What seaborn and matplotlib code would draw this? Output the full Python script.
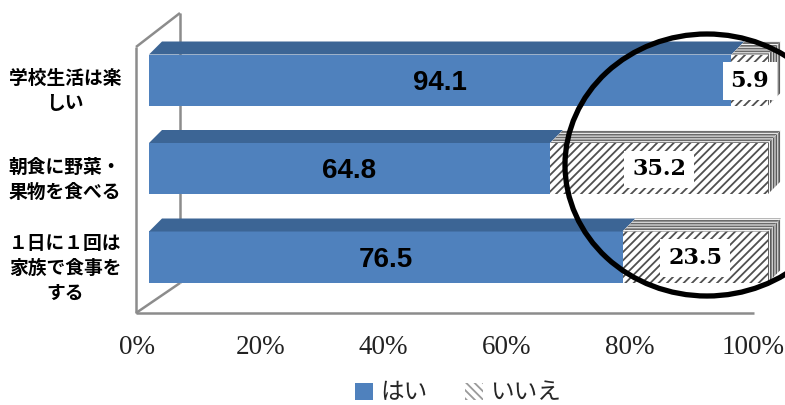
import matplotlib
matplotlib.use("Agg")
import matplotlib.pyplot as plt
from matplotlib.patches import Polygon, Ellipse, Patch
import seaborn as sns
import pandas as pd

# ---------------- data ----------------
categories = ["学校生活は楽\nしい", "朝食に野菜・\n果物を食べる", "１日に１回は\n家族で食事を\nする"]
hai = [94.1, 64.8, 76.5]
iie = [5.9, 35.2, 23.5]
series_names = ["はい", "いいえ"]
ticks = [0, 20, 40, 60, 80, 100]
tick_labels = ["0%", "20%", "40%", "60%", "80%", "100%"]

# ---------------- style ----------------
BLUE = "#4F81BD"
BLUE_TOP = "#3C6595"
HATCH_C = "#505050"
WALL_C = "#8c8c8c"
CJK = ["Noto Sans CJK JP", "DejaVu Sans"]

sns.set_theme(style="white")
plt.rcParams["font.family"] = CJK
plt.rcParams["hatch.linewidth"] = 1.3

W, H = 785, 405
fig = plt.figure(figsize=(W / 100, H / 100), dpi=100)
ax = fig.add_axes([0, 0, 1, 1])

# pixel geometry of the chart (front faces)
X0_PX, X100_PX = 149, 768
SX = (X100_PX - X0_PX) / 100.0          # px per percent
Y0_PX, DY_PX = 80, 88.5                  # first bar centre, bar spacing
BAR_H = 51 / DY_PX
DEPTH_X = 13 / SX
DEPTH_Y = 13 / DY_PX
LINE_PITCH = 25 / DY_PX


def px(xp, yp):
    return (xp - X0_PX) / SX, (yp - Y0_PX) / DY_PX


df = pd.DataFrame({"category": categories, "はい": hai, "いいえ": iie})
df["total"] = df["はい"] + df["いいえ"]

# walls / floor (behind the bars)
wall_pts = [((136, 47), (180, 13)), ((136, 47), (136, 313)), ((136, 313), (754, 313)),
            ((136, 313), (180, 283)), ((180, 13), (180, 283))]
for a, b in wall_pts:
    (x1, y1), (x2, y2) = px(*a), px(*b)
    ax.plot([x1, x2], [y1, y2], color=WALL_C, lw=1.8, zorder=0.5, solid_capstyle="butt")

# stacked bars (total hatched underneath, はい on top)
sns.barplot(data=df, x="total", y="category", orient="h", color="white", width=BAR_H,
            hatch="////", edgecolor=HATCH_C, linewidth=0, saturation=1, errorbar=None,
            ax=ax, zorder=2)
sns.barplot(data=df, x="はい", y="category", orient="h", color=BLUE, width=BAR_H,
            linewidth=0, saturation=1, errorbar=None, ax=ax, zorder=2.1)

# 3-D faces
for i, (h, n) in enumerate(zip(hai, iie)):
    tot = h + n
    yt = i - BAR_H / 2
    yb = i + BAR_H / 2
    ax.add_patch(Polygon([(0, yt), (h, yt), (h + DEPTH_X, yt - DEPTH_Y), (DEPTH_X, yt - DEPTH_Y)],
                         closed=True, facecolor=BLUE_TOP, edgecolor="none", lw=0, zorder=2.2))
    ax.add_patch(Polygon([(h, yt), (tot, yt), (tot + DEPTH_X, yt - DEPTH_Y), (h + DEPTH_X, yt - DEPTH_Y)],
                         closed=True, facecolor="white", edgecolor="#6a6a6a", hatch="------",
                         lw=0, zorder=2.2))
    ax.add_patch(Polygon([(tot, yt), (tot + DEPTH_X, yt - DEPTH_Y), (tot + DEPTH_X, yb - DEPTH_Y), (tot, yb)],
                         closed=True, facecolor="white", edgecolor="#5a5a5a", hatch="||||||",
                         lw=0, zorder=2.2))
    # value labels
    ax.text(h / 2, i + 0.03, f"{h:.1f}", ha="center", va="center", fontsize=20,
            fontweight="bold", family=["Liberation Sans", "DejaVu Sans"], color="black", zorder=6)
    ax.text(h + n / 2, i + 0.01, f"{n:.1f}", ha="center", va="center", fontsize=16,
            fontweight="bold", family=["DejaVu Serif"], color="black", zorder=6,
            bbox=dict(boxstyle="square,pad=0.35", facecolor="white", edgecolor="none"))
    # category label, each line centred
    lines = categories[i].split("\n")
    centre = i + 0.125
    for k, line in enumerate(lines):
        yk = centre + (k - (len(lines) - 1) / 2) * LINE_PITCH
        ax.text(px(65, 0)[0], yk, line, ha="center", va="center", fontsize=13.5,
                fontweight="bold", family=CJK, color="black", zorder=6)

# highlight ellipse
cx, cy = px(707, 165)
ax.add_patch(Ellipse((cx, cy), 284 / SX, 262 / DY_PX, facecolor="none", edgecolor="black",
                     lw=3.8, zorder=5))

# floor tick labels
for t, lab in zip(ticks, tick_labels):
    x = t * 0.995 + (137 - X0_PX) / SX
    ax.text(x, px(0, 348)[1], lab, ha="center", va="center", fontsize=19.5,
            family=["Liberation Serif", "DejaVu Serif"], color="#222222")

ax.set_xlim(px(0, 0)[0], px(W, 0)[0])
ax.set_ylim(px(0, H)[1], px(0, 0)[1])
ax.set_axis_off()

handles = [Patch(facecolor=BLUE, edgecolor="none", lw=0),
           Patch(facecolor="white", edgecolor="#9a9a9a", hatch="\\\\\\\\", lw=0)]
fig.legend(handles, series_names, loc="center", bbox_to_anchor=(458 / W, 1 - 393 / H), ncol=2,
           frameon=False, handlelength=0.75, handleheight=0.75,
           handletextpad=0.3, columnspacing=1.6, prop={"family": CJK, "size": 17})

fig.savefig("out.png", dpi=100)
